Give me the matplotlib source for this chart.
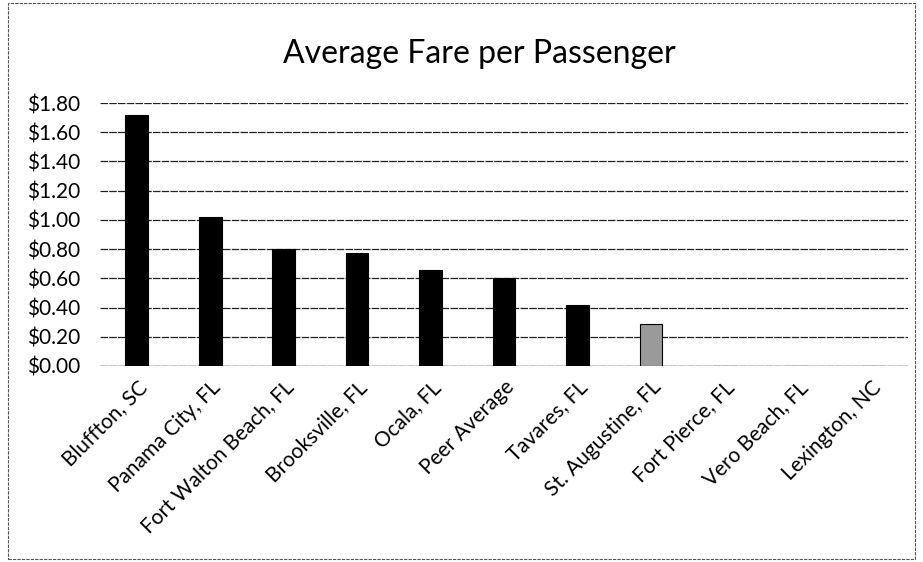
import matplotlib.pyplot as plt
import numpy as np

# data
cities = ['Bluffton, SC', 'Panama City, FL', 'Fort Walton Beach, FL', 'Brooksville, FL',
          'Ocala, FL', 'Peer Average', 'Tavares, FL', 'St. Augustine, FL',
          'Fort Pierce, FL', 'Vero Beach, FL', 'Lexington, NC']
fares = [1.72, 1.02, 0.80, 0.77, 0.66, 0.60, 0.42, 0.29, 0.0, 0.0, 0.0]
bar_colors = ['black'] * 7 + ['#9a9a9a'] + ['black'] * 3
yticks = [0.0, 0.2, 0.4, 0.6, 0.8, 1.0, 1.2, 1.4, 1.6, 1.8]

plt.rcParams['font.family'] = ['Lato', 'DejaVu Sans']

fig = plt.figure(figsize=(9.23, 5.62), dpi=100)
ax = fig.add_axes([100 / 923, 1 - 366 / 562, 808 / 923, 263 / 562])

x = np.arange(len(cities))
ax.bar(x, fares, width=0.31, color=bar_colors, edgecolor='black', linewidth=0.8, zorder=3)

ax.set_xlim(-0.5, len(cities) - 0.5)
ax.set_ylim(0, 1.8)
ax.set_yticks(yticks)
ax.set_yticklabels(['${:.2f}'.format(v) for v in yticks], fontsize=15)
ax.set_xticks(x)
ax.set_xticklabels(cities, rotation=45, ha='right', rotation_mode='anchor', fontsize=15)
ax.tick_params(axis='y', length=0, pad=14)
ax.tick_params(axis='x', length=0, pad=8)
ax.yaxis.grid(True, color='#222222', linewidth=0.9, linestyle=(0, (6, 1)))
ax.set_axisbelow(True)
for s in ax.spines.values():
    s.set_visible(False)
ax.axhline(0, color='#222222', linewidth=0.9, zorder=2)

fig.text(479 / 923, 1 - 54 / 562, 'Average Fare per Passenger', ha='center', va='center', fontsize=23)

# outer frame of the chart
frame = plt.Rectangle((8 / 923, 0.005), 1 - 16 / 923, 0.99, transform=fig.transFigure,
                      fill=False, edgecolor='#555555', linewidth=0.8, linestyle=(0, (3, 1)))
fig.patches.append(frame)

fig.savefig('out.png', dpi=100)
